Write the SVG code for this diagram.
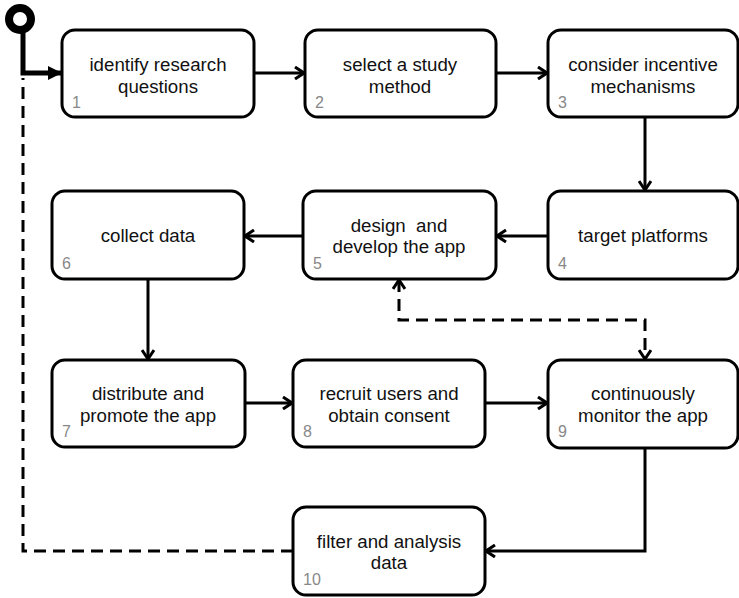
<svg xmlns="http://www.w3.org/2000/svg" width="739" height="598" viewBox="0 0 739 598">
<style>
.box{fill:#fff;stroke:#000;stroke-width:3}
.t{font-family:"Liberation Sans",Arial,sans-serif;font-size:18.7px;fill:#111;text-anchor:middle;white-space:pre}
.n{font-family:"Liberation Sans",Arial,sans-serif;font-size:16px;fill:#888}
.e{fill:none;stroke:#000;stroke-width:3}
.d{fill:none;stroke:#000;stroke-width:3;stroke-dasharray:12 7}
</style>
<defs>
<marker id="open" viewBox="0 0 12 14" refX="11" refY="7" markerWidth="12" markerHeight="14" markerUnits="userSpaceOnUse" orient="auto-start-reverse">
<path d="M2,1 L11,7 L2,13" fill="none" stroke="#000" stroke-width="3"/>
</marker>
<marker id="fill" viewBox="0 0 14 14" refX="13" refY="7" markerWidth="14" markerHeight="14" markerUnits="userSpaceOnUse" orient="auto">
<path d="M0,0 L14,7 L0,14 Z" fill="#000"/>
</marker>
</defs>
<g id="connectors">
<path class="d" d="M293,551 H23 V78"/>
<path d="M23,30 V73 H61" fill="none" stroke="#000" stroke-width="5" marker-end="url(#fill)"/>
<circle cx="20" cy="19" r="11" fill="#fff" stroke="#000" stroke-width="8"/>
<path class="e" d="M254,73 H304" marker-end="url(#open)"/>
<path class="e" d="M496,73 H547" marker-end="url(#open)"/>
<path class="e" d="M645,117 V190" marker-end="url(#open)"/>
<path class="e" d="M548,236 H497" marker-end="url(#open)"/>
<path class="e" d="M303,236 H245" marker-end="url(#open)"/>
<path class="e" d="M148,279 V359" marker-end="url(#open)"/>
<path class="e" d="M245,403 H292" marker-end="url(#open)"/>
<path class="e" d="M485,403 H547" marker-end="url(#open)"/>
<path class="e" d="M645,448 V551 H486" marker-end="url(#open)"/>
<path class="d" d="M399,280 V320 H645 V359" marker-start="url(#open)" marker-end="url(#open)"/>
</g>
<g id="n1"><rect class="box" x="62" y="30" width="192" height="87" rx="13"/><text class="t" x="158" y="71">identify research</text><text class="t" x="158" y="93">questions</text><text class="n" x="72" y="108">1</text></g>
<g id="n2"><rect class="box" x="305" y="30" width="191" height="87" rx="13"/><text class="t" x="400" y="71">select a study</text><text class="t" x="400" y="93">method</text><text class="n" x="315" y="108">2</text></g>
<g id="n3"><rect class="box" x="548" y="30" width="190" height="87" rx="13"/><text class="t" x="643" y="71">consider incentive</text><text class="t" x="643" y="93">mechanisms</text><text class="n" x="558" y="108">3</text></g>
<g id="n4"><rect class="box" x="548" y="191" width="190" height="88" rx="13"/><text class="t" x="643" y="242">target platforms</text><text class="n" x="558" y="269">4</text></g>
<g id="n5"><rect class="box" x="303" y="191" width="193" height="88" rx="13"/><text class="t" x="399" y="232">design  and</text><text class="t" x="399" y="253">develop the app</text><text class="n" x="313" y="269">5</text></g>
<g id="n6"><rect class="box" x="52" y="191" width="192" height="88" rx="13"/><text class="t" x="148" y="242">collect data</text><text class="n" x="62" y="269">6</text></g>
<g id="n7"><rect class="box" x="52" y="360" width="193" height="87" rx="13"/><text class="t" x="148" y="400">distribute and</text><text class="t" x="148" y="422">promote the app</text><text class="n" x="62" y="437">7</text></g>
<g id="n8"><rect class="box" x="293" y="360" width="192" height="87" rx="13"/><text class="t" x="389" y="400">recruit users and</text><text class="t" x="389" y="422">obtain consent</text><text class="n" x="303" y="437">8</text></g>
<g id="n9"><rect class="box" x="548" y="360" width="190" height="88" rx="13"/><text class="t" x="643" y="400">continuously</text><text class="t" x="643" y="422">monitor the app</text><text class="n" x="558" y="437">9</text></g>
<g id="n10"><rect class="box" x="293" y="507" width="192" height="88" rx="13"/><text class="t" x="389" y="548">filter and analysis</text><text class="t" x="389" y="569">data</text><text class="n" x="303" y="585">10</text></g>
</svg>
